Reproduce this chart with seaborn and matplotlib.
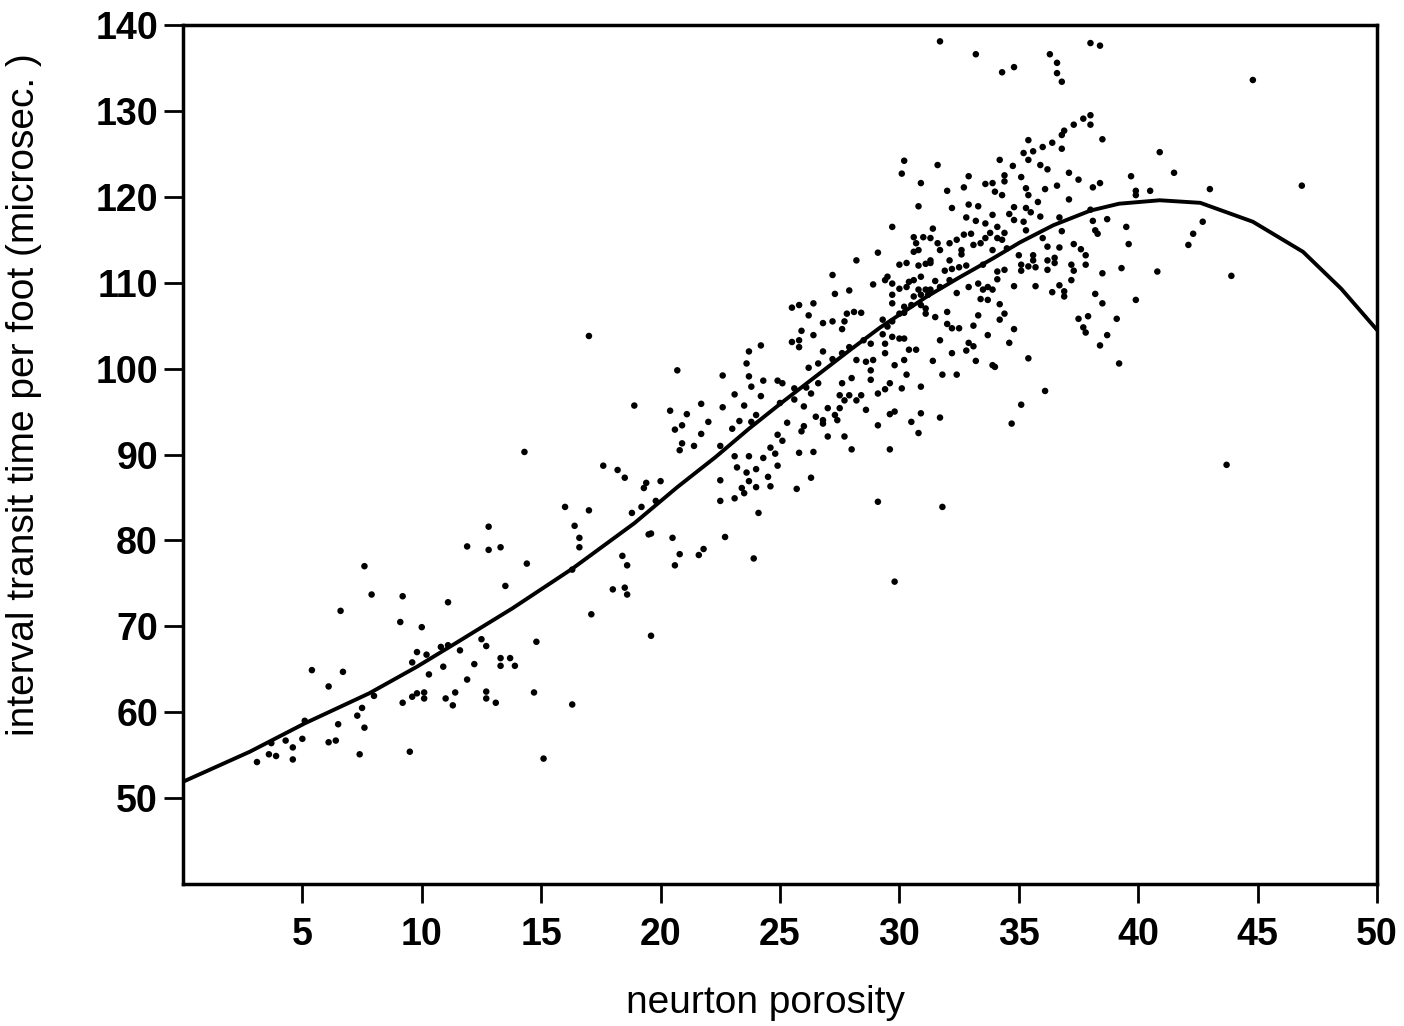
import numpy as np
import pandas as pd
import matplotlib
matplotlib.use("Agg")
import matplotlib.pyplot as plt
import seaborn as sns

# ---- data (neutron porosity, transit time) ----
pts_low = [(12.8,81.6),(11.9,79.3),(12.8,78.9),(13.3,79.2),(7.6,77.0),(13.5,74.7),(7.9,73.7),(9.2,73.5),
           (11.1,72.8),(6.6,71.8),(9.1,70.5),(10.0,69.9),(12.5,68.5),(12.7,67.7),(9.8,67.0),(10.2,66.7),
           (10.8,67.6),(11.1,67.8),(11.6,67.2),(9.6,65.8),(12.2,65.6),(10.9,65.3),(5.4,64.9),(6.7,64.7),
           (10.3,64.4),(11.9,63.8),(6.1,63.0),(9.8,62.2),(10.1,62.3),(10.1,61.6),(9.6,61.8),(11.4,62.3),
           (12.7,62.4),(12.7,61.6),(9.2,61.1),(11.0,61.6),(11.3,60.8),(13.1,61.1),(8.0,61.9),(7.5,60.5),
           (7.3,59.6),(5.1,59.0),(6.5,58.6),(7.6,58.2),(4.3,56.7),(5.0,56.9),(4.6,55.9),(6.1,56.5),
           (6.4,56.7),(3.7,56.4),(3.6,55.1),(3.9,54.9),(3.1,54.2),(4.6,54.5),(7.4,55.1),(9.5,55.4)]

pts_mid_low = [(18.9,95.7),(14.3,90.3),(17.6,88.7),(18.2,88.2),(18.5,87.3),(19.4,86.7),(19.3,86.1),
               (16.0,83.9),(17.0,83.5),(18.8,83.2),(19.2,83.9),(16.4,81.7),(16.6,80.3),(16.6,79.2),
               (19.5,80.7),(14.4,77.3),(16.3,76.6),(18.4,78.2),(18.6,77.1),(18.0,74.3),(18.5,74.5),
               (18.6,73.7),(17.1,71.4),(19.6,68.9),(14.8,68.2),(13.3,66.3),(13.7,66.3),(13.3,65.4),
               (13.9,65.4),(14.7,62.3),(16.3,60.9),(15.1,54.6),(17.0,103.8)]

pts_mid = [(28.9,109.8),(27.3,108.7),(27.9,109.1),(25.5,107.1),(25.8,107.4),(26.4,107.6),(26.2,106.2),
           (26.8,105.3),(27.2,105.5),(27.8,106.4),(28.1,106.6),(28.4,106.5),(27.7,105.5),(27.6,104.6),
           (25.9,104.4),(26.4,103.9),(25.5,103.1),(25.8,103.3),(25.8,102.5),(24.2,102.7),(23.7,102.0),
           (26.8,102.0),(27.6,101.8),(27.9,102.5),(28.5,103.3),(28.8,102.9),(27.2,101.1),(28.2,101.0),
           (28.6,100.8),(28.9,101.0),(23.6,100.6),(20.7,99.8),(22.6,99.2),(23.7,99.1),(26.2,100.1),
           (26.6,100.6),(28.8,99.8),(24.3,98.6),(24.9,98.6),(25.1,98.3),(23.8,97.9),(25.6,97.7),
           (26.1,97.8),(26.6,98.3),(27.6,98.3),(28.0,98.9),(28.8,98.7),(23.1,97.0),(24.2,96.8),
           (26.3,97.1),(27.5,96.9),(27.9,96.9),(28.4,96.9),(29.1,97.1),(25.0,96.0),(25.6,96.4),
           (27.7,96.3),(28.2,96.3),(21.7,95.9),(22.6,95.5),(23.5,95.7),(26.0,95.6),(27.0,95.4),
           (27.5,95.4),(28.6,95.2),(20.4,95.1),(21.1,94.7),(24.0,94.6),(26.5,94.4),(26.8,94.0),
           (27.3,94.6),(22.0,93.8),(23.3,93.9),(23.8,93.8),(25.3,93.7),(26.8,93.6),(27.4,94.0),
           (29.1,93.4),(20.9,93.4),(20.6,92.9),(23.0,93.0),(26.0,93.3),(25.9,92.7),(21.7,92.4),
           (24.9,92.3),(27.0,92.1),(27.7,92.1),(20.9,91.3),(21.4,91.0),(22.5,91.0),(25.1,91.6),
           (24.6,90.8),(20.8,90.5),(28.0,90.6),(24.8,90.1),(23.1,89.8),(23.7,89.8),(24.3,89.6),
           (25.8,90.2),(26.4,90.3),(24.9,88.7),(23.2,88.5),(24.0,88.3),(23.6,87.9),(24.5,87.4),
           (26.3,87.3),(22.5,87.0),(20.0,86.9),(23.7,86.9),(23.4,86.1),(24.0,86.2),(24.6,86.3),
           (25.7,86.0),(23.5,85.5),(23.1,84.9),(22.5,84.6),(19.8,84.6),(29.1,84.5),(24.1,83.2),
           (19.6,80.8),(20.5,80.3),(22.7,80.4),(20.8,78.4),(21.8,79.0),(21.6,78.3),(23.9,77.9),
           (20.6,77.1),(27.2,110.9),(28.2,112.6)]

pts_upper = [(32.0,120.7),(32.7,121.1),(33.6,121.5),(33.9,121.6),(34.4,121.8),(35.3,121.0),(35.4,120.2),
             (34.0,120.6),(34.3,120.2),(35.8,119.4),(30.8,118.9),(32.2,118.7),(32.9,119.1),(33.3,118.9),
             (35.3,118.7),(35.5,118.2),(34.8,118.8),(34.6,118.0),(34.8,117.3),(32.8,117.6),(33.2,117.2),
             (33.6,116.9),(33.9,117.9),(35.2,117.1),(29.7,116.5),(31.4,116.3),(34.1,116.5),(33.8,115.8),
             (34.4,115.8),(35.3,116.1),(30.6,115.3),(31.0,115.3),(31.3,115.2),(31.6,114.6),(32.1,114.6),
             (32.4,115.0),(32.7,115.6),(33.0,115.7),(33.6,115.2),(34.1,115.2),(34.3,115.0),(30.7,114.6),
             (30.8,113.8),(31.7,113.8),(32.6,113.8),(33.1,114.4),(33.4,114.6),(33.9,113.8),(34.5,114.0),
             (29.1,113.5),(30.6,113.6),(32.1,112.6),(31.3,112.6),(32.6,113.3),(35.0,113.2),(35.6,113.2),
             (30.0,112.1),(30.3,112.3),(30.8,112.0),(31.1,112.2),(31.3,112.3),(31.9,111.4),(32.2,111.6),
             (32.5,111.8),(32.8,112.0),(33.5,112.1),(35.1,112.1),(35.4,111.9),(35.7,111.8),(35.6,112.6),
             (29.5,110.7),(29.4,110.3),(29.7,109.9),(30.4,110.1),(30.6,110.3),(30.9,110.7),(31.5,110.2),
             (32.1,110.3),(34.1,111.3),(34.4,111.5),(35.1,111.4),(34.1,110.4),(30.0,109.3),(30.3,109.5),
             (30.8,109.2),(31.1,109.2),(31.3,109.2),(31.7,109.5),(32.9,109.5),(33.3,109.9),(33.7,109.5),
             (33.9,109.2),(34.8,109.6),(35.7,109.6),(29.7,108.6),(30.6,108.4),(30.9,108.6),(31.2,108.6),
             (32.4,108.8),(33.5,109.2),(33.4,108.1),(33.7,108.0),(29.7,107.6),(30.2,107.2),(30.5,107.4),
             (30.9,107.4),(31.1,107.0),(34.2,107.5),(30.0,106.4),(30.2,106.5),(31.1,106.4),(31.5,106.0),
             (32.0,106.6),(33.3,106.2),(34.4,106.4),(34.2,105.7),(29.3,105.7),(29.7,105.5),(32.0,105.2),
             (32.2,104.7),(32.5,104.7),(33.1,105.0),(34.8,104.6),(29.5,104.9),(29.3,104.0),(29.7,103.7),
             (30.0,103.5),(30.2,103.5),(31.7,103.3),(33.7,103.9),(34.6,103.0),(32.9,103.0),(33.1,102.6),
             (29.4,102.9),(30.4,102.2),(30.7,102.2),(29.4,101.8),(32.2,101.8),(32.8,102.1),(35.4,101.2),
             (29.8,100.4),(30.2,101.0),(31.4,100.9),(33.2,100.9),(33.9,100.4),(34.0,100.2),(30.3,99.3),
             (31.8,99.3),(32.4,99.3),(29.6,98.3),(30.1,97.7),(30.9,97.9),(29.4,97.6),(35.1,95.8),
             (29.6,94.7),(29.8,95.0),(30.9,94.8),(31.7,94.3),(30.5,93.8),(34.7,93.6),(30.8,92.5),
             (29.6,90.6),(31.8,83.9),(29.8,75.2)]

pts_right = [(38.0,129.5),(37.7,129.1),(38.0,128.4),(37.3,128.4),(36.9,127.7),(36.8,127.2),(38.5,126.7),
             (35.4,126.6),(36.4,126.3),(36.0,125.8),(35.6,125.3),(35.2,125.1),(36.8,125.6),(40.9,125.2),
             (35.4,124.3),(35.9,123.7),(36.2,123.2),(41.5,122.8),(37.1,122.8),(37.5,122.0),(39.7,122.4),
             (35.1,122.3),(38.4,121.6),(38.1,121.1),(36.6,121.3),(36.1,120.9),(39.9,120.7),(39.9,120.2),
             (40.5,120.7),(43.0,120.9),(37.1,119.7),(35.9,117.7),(36.7,117.6),(38.0,118.5),(38.7,117.4),
             (38.1,117.2),(42.7,117.1),(39.5,116.5),(42.3,115.7),(36.8,116.0),(38.2,116.1),(38.3,115.7),
             (36.0,115.2),(36.2,114.2),(36.7,114.1),(37.3,114.5),(37.6,113.9),(37.8,113.2),(39.6,114.5),
             (42.1,114.4),(36.5,112.9),(36.2,112.6),(36.5,112.3),(37.2,112.1),(37.8,112.1),(36.2,111.5),
             (37.3,111.4),(38.5,111.1),(39.3,111.7),(40.8,111.3),(37.2,110.3),(36.7,109.7),(36.4,108.9),
             (36.9,109.0),(36.9,108.4),(38.2,108.7),(38.5,107.6),(39.9,108.0),(37.5,105.8),(37.9,106.1),
             (39.1,105.8),(37.7,104.8),(37.8,104.2),(38.7,103.9),(38.4,102.7),(39.2,100.6),(36.1,97.4)]

pts_outer = [(30.2,124.2),(30.1,122.7),(31.6,123.7),(30.9,121.6),(32.9,122.4),(34.2,124.3),(34.75,123.6),
             (34.4,122.5),(31.7,138.1),(33.2,136.6),(34.3,134.5),(34.8,135.1),(36.3,136.6),(36.6,135.6),
             (36.6,134.4),(36.8,133.4),(38.0,137.9),(38.4,137.6),(44.8,133.6),(46.85,121.3),(43.9,110.8),
             (43.7,88.8)]

# fitted curve
curve_x = [0, 2.8, 5.1, 7.8, 9.8, 11.4, 13.8, 16.3, 18.9, 20.7, 22.3, 23.7, 25.1, 26.5, 27.9, 29.2,
           31.1, 32.5, 33.9, 35.05, 36.45, 38.0, 39.2, 40.9, 42.6, 44.8, 46.9, 48.5, 50]
curve_y = [51.9, 55.4, 58.7, 62.2, 65.3, 68.0, 72.1, 76.7, 82.0, 86.2, 89.7, 93.0, 96.1, 99.1, 102.1, 104.8,
           108.3, 110.6, 112.8, 114.7, 116.7, 118.4, 119.2, 119.6, 119.3, 117.1, 113.6, 109.3, 104.5]

x_ticks = [5, 10, 15, 20, 25, 30, 35, 40, 45, 50]
y_ticks = [50, 60, 70, 80, 90, 100, 110, 120, 130, 140]

# ---- build table ----
all_pts = pts_low + pts_mid_low + pts_mid + pts_upper + pts_right + pts_outer
df = pd.DataFrame(all_pts, columns=["porosity", "transit"])
curve = pd.DataFrame({"porosity": curve_x, "transit": curve_y})

sns.set_style("white")
plt.rcParams["font.family"] = ["Liberation Sans Narrow", "Liberation Sans", "DejaVu Sans"]
for key in ["text.color", "axes.labelcolor", "xtick.color", "ytick.color", "axes.edgecolor"]:
    plt.rcParams[key] = "black"

fig = plt.figure(figsize=(14.04, 10.26), dpi=100)
ax = fig.add_axes([0.1303, 0.1384, 0.8505, 0.8372])

sns.scatterplot(data=df, x="porosity", y="transit", ax=ax, color="black",
                s=22, linewidth=0, edgecolor="none")
sns.lineplot(data=curve, x="porosity", y="transit", ax=ax, color="black",
             linewidth=2.8, sort=True)

ax.set_xlim(0, 50)
ax.set_ylim(40, 140)
ax.set_xticks(x_ticks)
ax.set_yticks(y_ticks)
ax.set_xticklabels([str(t) for t in x_ticks], fontsize=27, fontweight="bold")
ax.set_yticklabels([str(t) for t in y_ticks], fontsize=27, fontweight="bold")
ax.tick_params(axis="both", direction="out", length=14, width=2, colors="black",
               bottom=True, left=True, top=False, right=False)
ax.tick_params(axis="x", pad=10)
ax.tick_params(axis="y", pad=4)

for sp in ax.spines.values():
    sp.set_visible(True)
    sp.set_color("black")
    sp.set_linewidth(2.5)

ax.set_xlabel("neurton porosity", fontsize=28, color="black")
ax.set_ylabel("interval transit time per foot (microsec. )", fontsize=28, color="black")
ax.xaxis.set_label_coords(0.488, -0.118)
ax.yaxis.set_label_coords(-0.118, 0.57)
ax.grid(False)

fig.savefig("out.png", dpi=100, facecolor="white")
